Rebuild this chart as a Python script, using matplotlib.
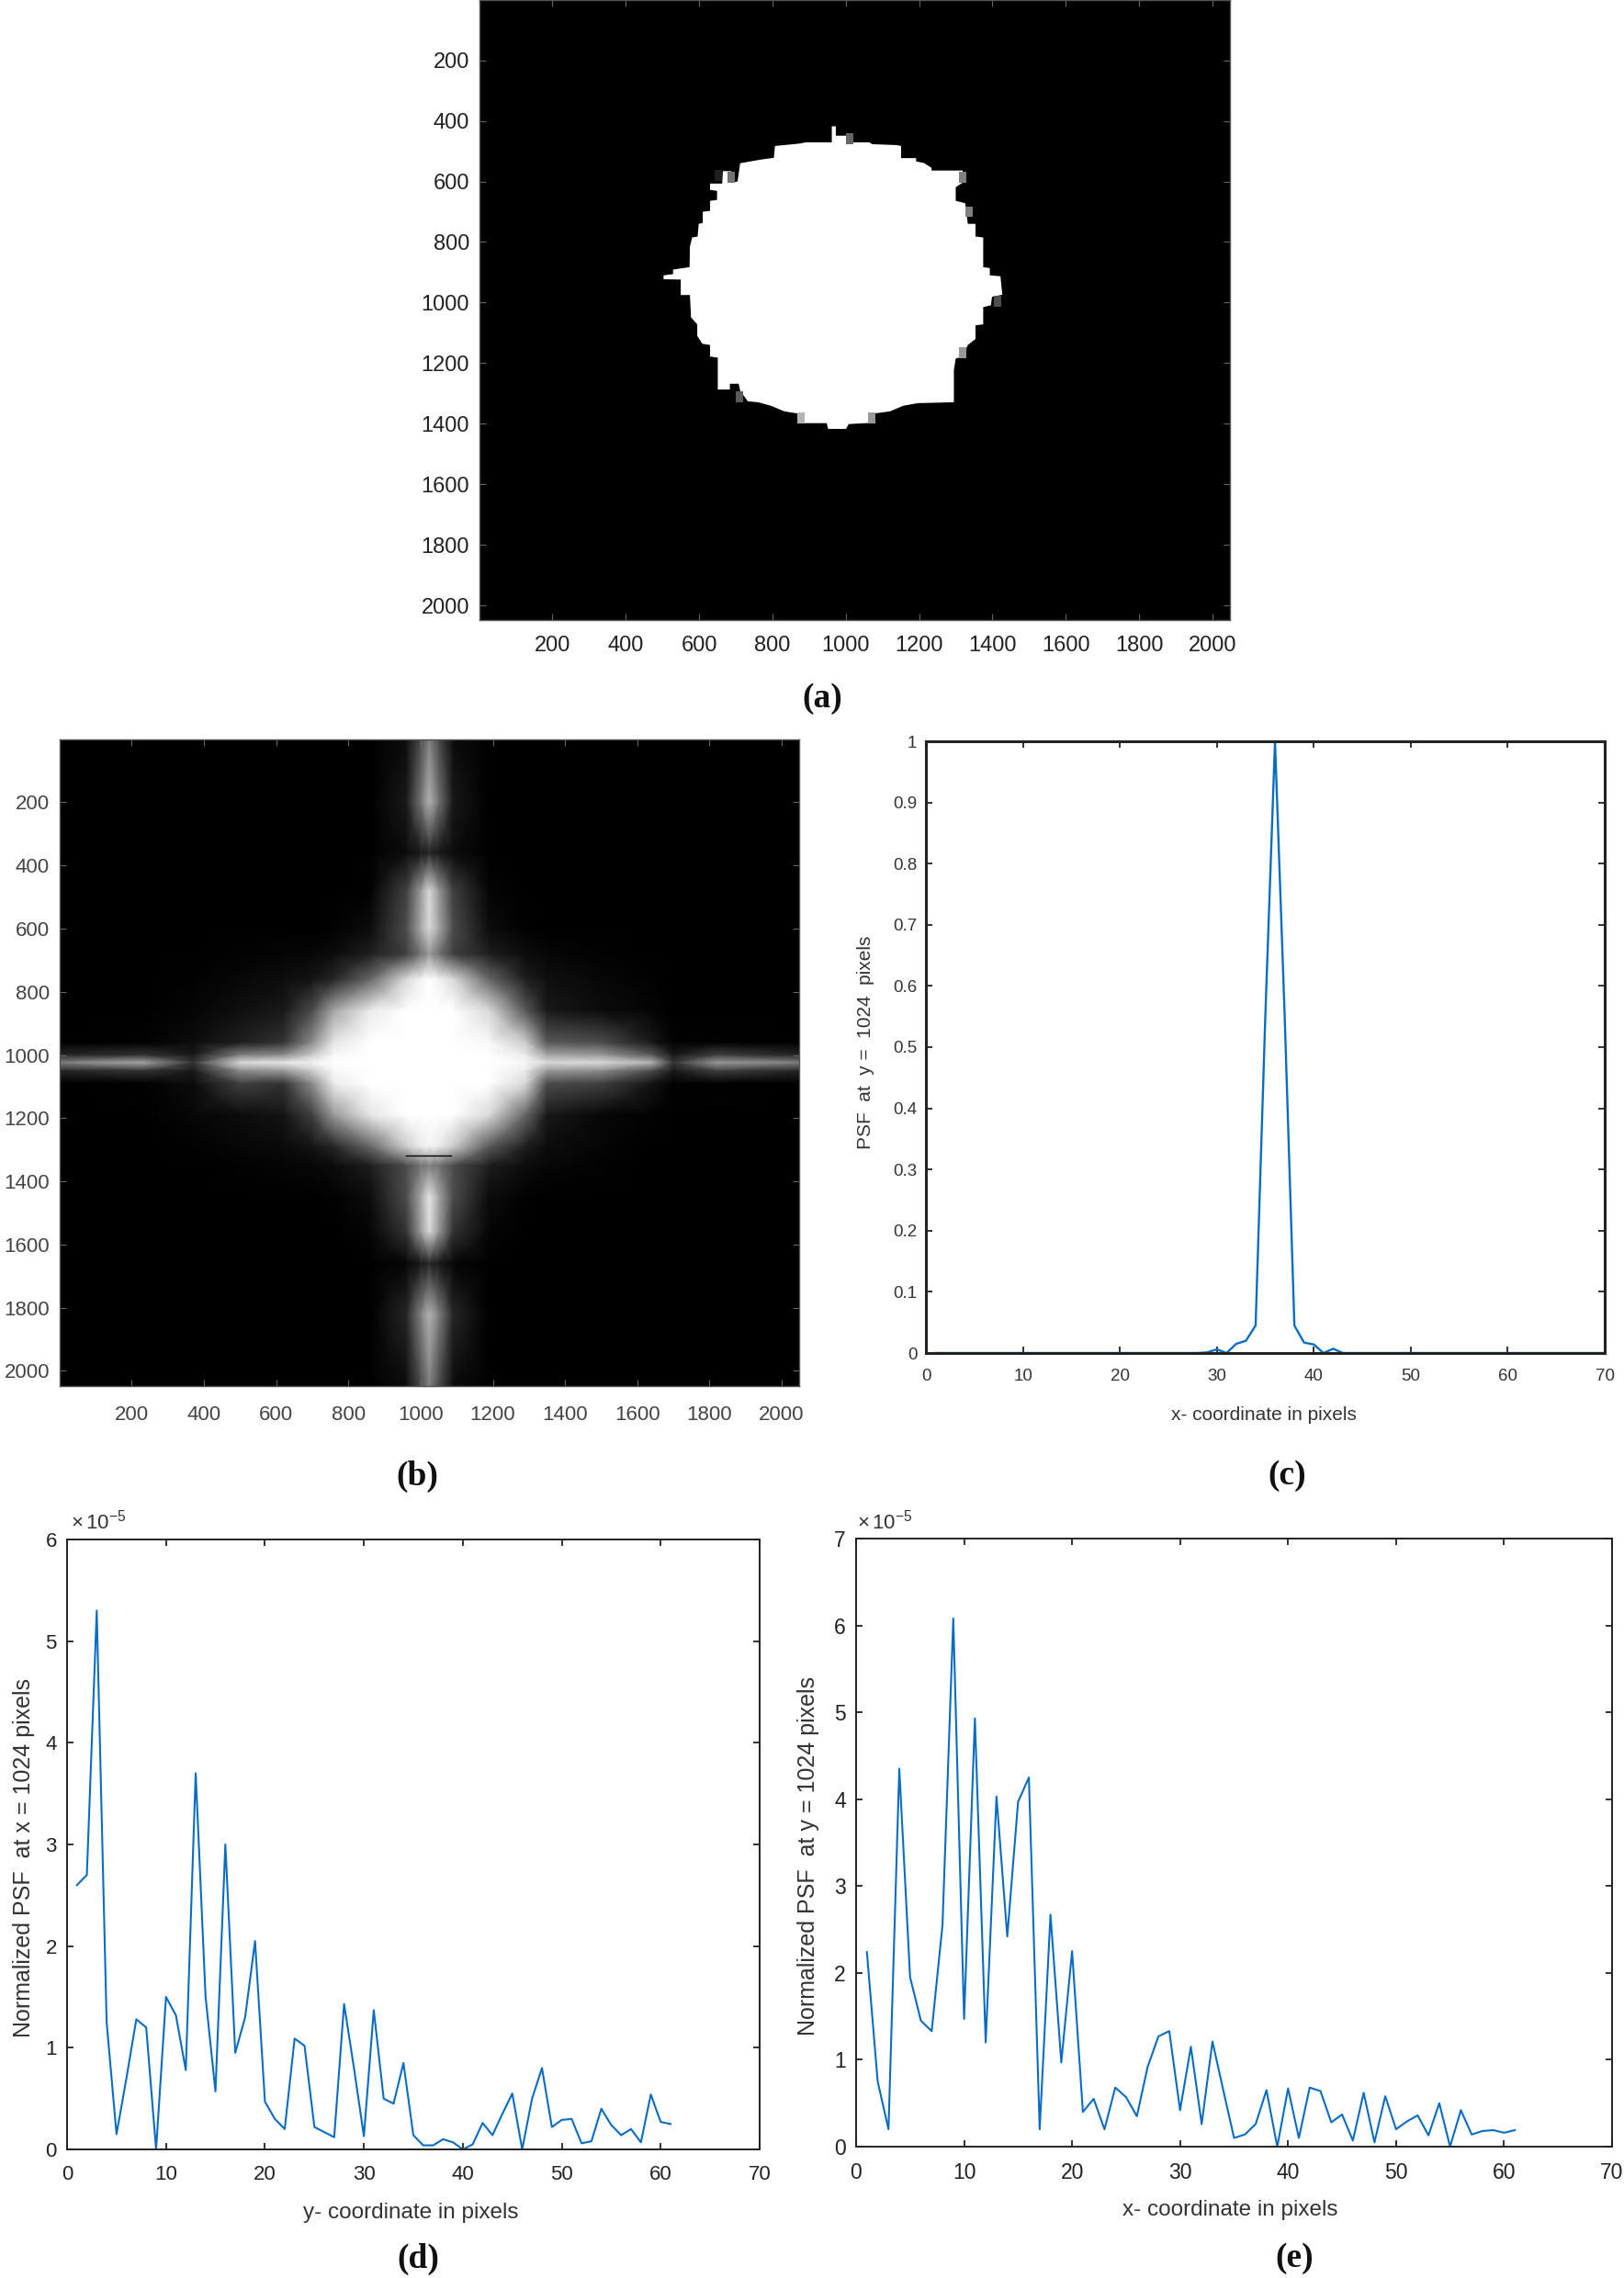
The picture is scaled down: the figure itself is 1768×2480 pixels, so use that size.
import matplotlib
matplotlib.use("Agg")
import matplotlib.pyplot as plt
from matplotlib.patches import Rectangle
import numpy as np

plt.rcParams['font.family'] = ['Liberation Sans', 'DejaVu Sans']
plt.rcParams['mathtext.default'] = 'regular'

W, H = 1768, 2480

# (a) outline of the white blob
blob_x = [962,962,973,973,1001,1001,1065,1072,1139,1151,1151,1192,1192,1213,1234,1234,1319,1319,1300,1300,1326,1333,
          1354,1354,1375,1375,1393,1393,1422,1427,1399,1396,1375,1375,1354,1354,1333,1319,1300,1295,1295,1196,1156,
          1121,1072,1072,1008,1001,952,948,874,874,832,797,761,733,712,708,684,684,651,651,630,630,609,595,595,578,
          575,550,550,503,503,529,529,574,575,581,596,599,610,610,630,630,649,649,630,630,663,665,688,691,705,712,
          768,804,807,874,891]
blob_y = [471,418,418,449,449,471,471,477,480,483,523,523,534,539,555,564,564,604,619,664,672,740,740,782,785,883,
          886,910,913,974,981,1009,1015,1072,1075,1120,1140,1178,1185,1223,1329,1332,1341,1359,1367,1397,1401,1417,
          1417,1398,1398,1367,1359,1341,1329,1326,1291,1268,1268,1287,1287,1182,1178,1140,1136,1110,1072,1049,975,
          975,924,923,910,906,891,883,815,785,782,740,737,700,697,664,661,631,628,607,607,566,566,604,600,540,528,
          522,483,475,471]
grey_x = [1319,1336,688,652,1011,1413,1319,711,878,1072]
grey_y = [585,700,585,580,460,995,1165,1310,1380,1380]
grey_v = [0.5,0.5,0.45,0.12,0.4,0.3,0.6,0.35,0.7,0.6]
img_ticks = [200,400,600,800,1000,1200,1400,1600,1800,2000]

# (b) brightness estimated by eye on a coarse grid, in percent
psf_x = [0,230,370,500,620,700,760,860,960,1000,1024,1050,1090,1190,1290,1350,1500,1640,1700,1820,2048]
psf_y = [0,200,360,480,600,680,760,860,960,1000,1024,1050,1090,1190,1290,1350,1450,1560,1660,1820,2048]
psf_z = [
    [0,0,0,0,0,0,0,0,5,30,50,30,5,0,0,0,0,0,0,0,0],
    [0,0,0,0,0,0,0,0,10,45,70,45,10,0,0,0,0,0,0,0,0],
    [0,0,0,0,0,0,0,0,5,10,15,10,5,0,0,0,0,0,0,0,0],
    [0,0,0,0,0,0,0,1,25,60,85,60,25,2,0,0,0,0,0,0,0],
    [0,0,0,0,0,0,1,5,30,65,85,65,30,5,1,0,0,0,0,0,0],
    [0,0,0,1,2,3,5,12,25,45,60,45,25,12,5,3,1,0,0,0,0],
    [0,0,1,3,5,8,15,40,85,95,100,95,85,40,12,6,3,1,0,0,0],
    [0,0,2,6,10,30,65,92,100,100,100,100,100,85,35,10,5,2,0,0,0],
    [0,1,5,12,20,55,90,100,100,100,100,100,100,97,80,35,30,10,1,1,0],
    [15,20,10,50,55,80,97,100,100,100,100,100,100,100,92,65,60,35,10,25,15],
    [50,65,20,85,90,95,100,100,100,100,100,100,100,100,97,85,85,70,20,60,50],
    [15,20,10,55,60,80,97,100,100,100,100,100,100,100,92,60,55,30,10,25,15],
    [0,1,5,25,20,55,92,100,100,100,100,100,100,100,85,30,25,8,1,1,0],
    [0,0,3,5,8,25,60,90,100,100,100,100,100,85,40,10,3,1,0,0,0],
    [0,0,1,3,4,8,15,40,80,92,95,92,80,35,12,5,2,0,0,0,0],
    [0,0,0,1,2,3,5,12,30,45,50,45,30,12,5,3,1,0,0,0,0],
    [0,0,0,0,0,0,1,5,30,65,90,65,30,5,1,0,0,0,0,0,0],
    [0,0,0,0,0,0,0,2,20,60,85,60,20,2,0,0,0,0,0,0,0],
    [0,0,0,0,0,0,0,0,3,10,15,10,3,0,0,0,0,0,0,0,0],
    [0,0,0,0,0,0,0,0,15,50,70,50,15,0,0,0,0,0,0,0,0],
    [0,0,0,0,0,0,0,0,5,30,50,30,5,0,0,0,0,0,0,0,0],
]

# (c)
c_x = [1,28,29,30,31,32,33,34,35,36,37,38,39,40,41,42,43,44,70]
c_y = [0,0,0.001,0.006,0,0.015,0.02,0.045,0.55,1,0.55,0.045,0.017,0.014,0,0.007,0,0,0]

# (d)
d_y = [2.6,2.7,5.3,1.25,0.15,0.7,1.28,1.2,0,1.5,1.32,0.78,3.7,1.5,0.57,3.0,0.95,1.3,2.05,0.47,0.3,0.2,1.09,1.02,
       0.22,0.17,0.12,1.43,0.8,0.13,1.37,0.5,0.45,0.85,0.14,0.04,0.04,0.1,0.07,0,0.05,0.26,0.14,0.35,0.55,0,0.5,
       0.8,0.22,0.29,0.3,0.06,0.08,0.4,0.24,0.14,0.2,0.07,0.54,0.27,0.25]

# (e)
e_y = [2.24,0.75,0.2,4.35,1.95,1.45,1.33,2.55,6.08,1.47,4.93,1.2,4.03,2.42,3.97,4.25,0.2,2.67,0.97,2.25,0.4,0.55,
       0.2,0.68,0.57,0.35,0.92,1.27,1.33,0.42,1.15,0.26,1.21,0.65,0.1,0.14,0.26,0.65,0,0.67,0.1,0.68,0.64,0.28,
       0.37,0.07,0.62,0.05,0.58,0.2,0.29,0.36,0.13,0.5,0,0.42,0.14,0.18,0.19,0.16,0.19]

x_ticks = [0,10,20,30,40,50,60,70]
c_yticks = [0,0.1,0.2,0.3,0.4,0.5,0.6,0.7,0.8,0.9,1]
c_ylabels = ['0','0.1','0.2','0.3','0.4','0.5','0.6','0.7','0.8','0.9','1']

line_col = '#0b6cc4'


def px_axes(fig, l, t, r, b):
    return fig.add_axes([l / W, 1 - b / H, (r - l) / W, (b - t) / H])


def px_text(fig, x, y, s, **kw):
    kw.setdefault('ha', 'center')
    kw.setdefault('va', 'center')
    fig.text(x / W, 1 - y / H, s, **kw)


def style_image(ax, size, col, tickcol, xpad, ypad):
    ax.set_xlim(1, 2048)
    ax.set_ylim(2048, 1)
    ax.set_xticks(img_ticks)
    ax.set_yticks(img_ticks)
    ax.tick_params(direction='in', length=5, width=0.8, color=tickcol, top=True, right=True,
                   labelsize=size, labelcolor=col)
    ax.tick_params(axis='x', pad=xpad)
    ax.tick_params(axis='y', pad=ypad)
    for s in ax.spines.values():
        s.set_color('#555555')
        s.set_linewidth(1)


def style_plot(ax, size, col, framew, pad_x, pad_y):
    ax.set_xlim(0, 70)
    ax.set_xticks(x_ticks)
    ax.tick_params(direction='in', length=5, width=1.3, color='#222222', top=True, right=True,
                   labelsize=size, labelcolor=col)
    ax.tick_params(axis='x', pad=pad_x)
    ax.tick_params(axis='y', pad=pad_y)
    for s in ax.spines.values():
        s.set_color('#222222')
        s.set_linewidth(framew)


fig = plt.figure(figsize=(W / 100, H / 100), dpi=100, facecolor='white')

# (a)
ax = px_axes(fig, 522, 0, 1339, 675)
ax.set_facecolor('black')
ax.fill(blob_x, blob_y, color='white', lw=0)
for gx, gy, gv in zip(grey_x, grey_y, grey_v):
    ax.add_patch(Rectangle((gx - 10, gy - 18), 20, 36, color=str(gv), lw=0))
style_image(ax, 17, '#222222', '#666666', 12, 8)

# (b)
ax = px_axes(fig, 65, 805, 870, 1509)
ax.set_facecolor('black')
ax.pcolormesh(psf_x, psf_y, np.array(psf_z) / 100, cmap='gray', vmin=0, vmax=1, shading='gouraud')
ax.plot([960, 1085], [1318, 1318], color='black', lw=1)
style_image(ax, 16, '#444444', '#666666', 15, 8)

# (c)
ax = px_axes(fig, 1008, 807, 1747, 1473)
ax.plot([0, 70], [0, 0], color='#102a80', lw=2)
ax.plot(c_x, c_y, color=line_col, lw=1.7)
ax.set_ylim(0, 1)
ax.set_yticks(c_yticks)
ax.set_yticklabels(c_ylabels)
style_plot(ax, 13.5, '#333333', 2.2, 12, 7)
px_text(fig, 1376, 1541, 'x- coordinate in pixels', fontsize=15, color='#333333')
px_text(fig, 943, 1135, 'PSF  at  y =  1024  pixels', fontsize=15, rotation=90, color='#333333')

# (d)
ax = px_axes(fig, 73, 1676, 827, 2340)
ax.plot(np.arange(1, len(d_y) + 1), d_y, color=line_col, lw=1.5)
ax.set_ylim(0, 6)
ax.set_yticks(range(7))
style_plot(ax, 16, '#222222', 1.4, 12, 8)
px_text(fig, 447, 2409, 'y- coordinate in pixels', fontsize=17.5, color='#333333')
px_text(fig, 26, 2023, 'Normalized PSF  at x = 1024 pixels', fontsize=18, rotation=90, color='#333333')
px_text(fig, 77, 1657, r'$\times\,10^{-5}$', fontsize=16, ha='left', color='#333333')

# (e)
ax = px_axes(fig, 932, 1675, 1755, 2337)
ax.plot(np.arange(1, len(e_y) + 1), e_y, color=line_col, lw=1.5)
ax.set_ylim(0, 7)
ax.set_yticks(range(8))
style_plot(ax, 16.5, '#222222', 1.4, 12, 8)
px_text(fig, 1339, 2406, 'x- coordinate in pixels', fontsize=17.5, color='#333333')
px_text(fig, 880, 2021, 'Normalized PSF  at y = 1024 pixels', fontsize=18, rotation=90, color='#333333')
px_text(fig, 933, 1657, r'$\times\,10^{-5}$', fontsize=16, ha='left', color='#333333')

# panel captions
cap_x = [895, 454, 1401, 455, 1409]
cap_y = [761, 1607, 1607, 2459, 2459]
cap_s = ['(a)', '(b)', '(c)', '(d)', '(e)']
for cx, cy, cs in zip(cap_x, cap_y, cap_s):
    px_text(fig, cx, cy, cs, fontsize=27, fontweight='bold', family='Liberation Serif', color='#111111')

plt.savefig('out.png', dpi=100, facecolor='white')
